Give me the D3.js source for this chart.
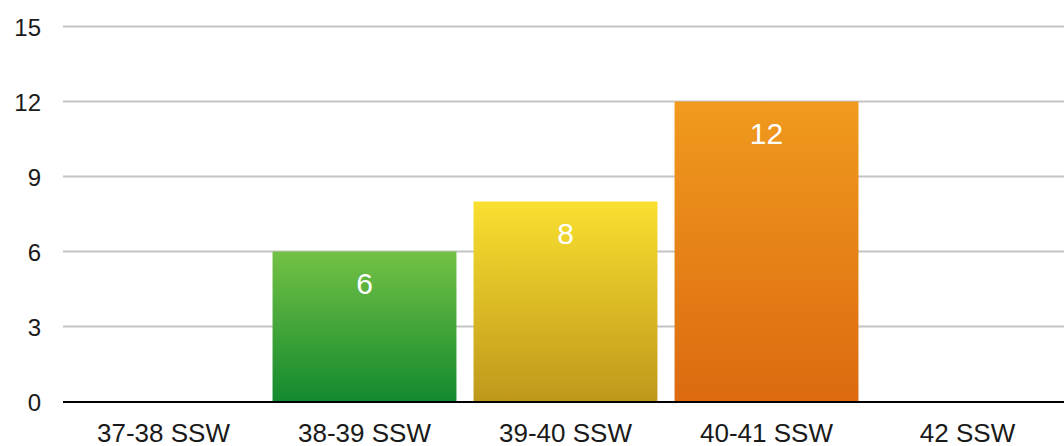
<!DOCTYPE html>
<html><head><meta charset="utf-8">
<script src="https://cdn.jsdelivr.net/npm/d3@7"></script>
<style>body{margin:0;background:#fff}svg{display:block}text{font-family:"Liberation Sans",Arial,sans-serif}</style>
</head><body><svg id="c" width="1064" height="446"></svg>
<script>
const categories = ["37-38 SSW","38-39 SSW","39-40 SSW","40-41 SSW","42 SSW"];
const values = [0, 6, 8, 12, 0];
const yTicks = [0, 3, 6, 9, 12, 15];
const gradTop = ["#7cc24a","#73c145","#f9e030","#f09a1e","#f09a1e"];
const gradBottom = ["#138a2e","#138a2e","#bf981b","#dc6a10","#dc6a10"];

const svg = d3.select("#c");
const x = d3.scaleBand().domain(categories).range([63, 1068]).paddingInner(0.085).paddingOuter(0.0425);
const y = d3.scaleLinear().domain([0, 15]).range([401.5, 26.5]);

const defs = svg.append("defs");
categories.forEach((c, i) => {
  const g = defs.append("linearGradient").attr("id", "g" + i).attr("x1", 0).attr("y1", 0).attr("x2", 0).attr("y2", 1);
  g.append("stop").attr("offset", "0%").attr("stop-color", gradTop[i]);
  g.append("stop").attr("offset", "100%").attr("stop-color", gradBottom[i]);
});

// gridlines
svg.append("g").selectAll("line").data(yTicks.filter(t => t > 0)).join("line")
  .attr("x1", 63).attr("x2", 1064).attr("y1", d => y(d)).attr("y2", d => y(d))
  .attr("stroke", "#c4c4c4").attr("stroke-width", 2);

// y labels
svg.append("g").selectAll("text").data(yTicks).join("text")
  .attr("x", 41).attr("y", d => y(d) + 9).attr("text-anchor", "end")
  .attr("font-size", 24).attr("fill", "#1a1a1a").text(d => d);

// bars
const bars = categories.map((c, i) => ({c, v: values[i], i})).filter(d => d.v > 0);
svg.append("g").selectAll("rect").data(bars).join("rect")
  .attr("x", d => x(d.c)).attr("width", x.bandwidth())
  .attr("y", d => y(d.v)).attr("height", d => y(0) - y(d.v))
  .attr("fill", d => `url(#g${d.i})`);

// value labels
svg.append("g").selectAll("text").data(bars).join("text")
  .attr("x", d => x(d.c) + x.bandwidth() / 2).attr("y", d => y(d.v) + 42.5)
  .attr("text-anchor", "middle").attr("font-size", 30).attr("fill", "#fff").text(d => d.v);

// x axis line
svg.append("line").attr("x1", 63).attr("x2", 1064).attr("y1", y(0) + 0.5).attr("y2", y(0) + 0.5)
  .attr("stroke", "#000").attr("stroke-width", 2);

// x labels
svg.append("g").selectAll("text").data(categories).join("text")
  .attr("x", d => x(d) + x.bandwidth() / 2).attr("y", 442)
  .attr("text-anchor", "middle").attr("font-size", 26).attr("fill", "#1a1a1a").text(d => d);
</script></body></html>
